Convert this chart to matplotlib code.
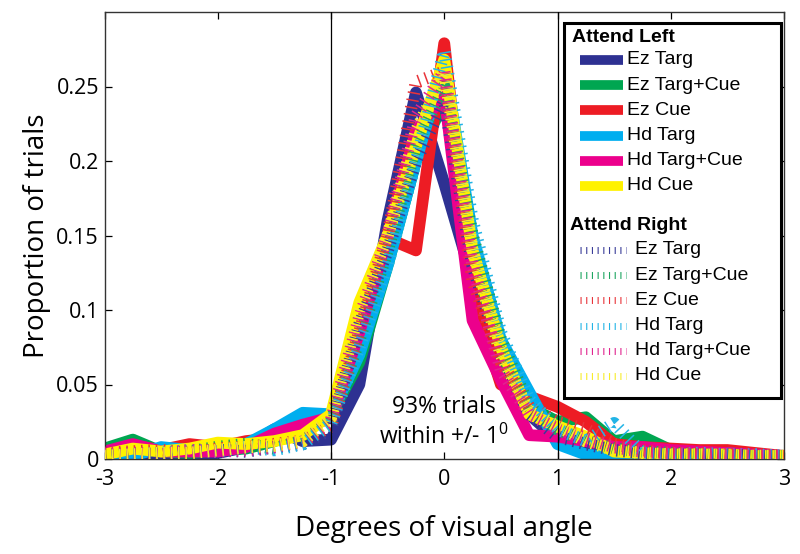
import matplotlib
matplotlib.use("Agg")
import matplotlib.pyplot as plt
from matplotlib.patches import Rectangle

plt.rcParams['font.family'] = ['Open Sans', 'DejaVu Sans']
plt.rcParams['mathtext.fontset'] = 'custom'
plt.rcParams['mathtext.rm'] = 'Open Sans'
plt.rcParams['lines.scale_dashes'] = False

# bin centres (degrees of visual angle)
angle = [-3.0, -2.75, -2.5, -2.25, -2.0, -1.75, -1.5, -1.25, -1.0, -0.75, -0.5, -0.25,
         0.0, 0.25, 0.5, 0.75, 1.0, 1.25, 1.5, 1.75, 2.0, 2.25, 2.5, 2.75, 3.0]

labels = ["Ez Targ", "Ez Targ+Cue", "Ez Cue", "Hd Targ", "Hd Targ+Cue", "Hd Cue"]
colors = ["#2e3192", "#00a651", "#ed1c24", "#00aeef", "#ec008c", "#fff200"]
dash_colors = ["#3a3d99", "#1ea661", "#e8343a", "#22b4e6", "#e0248f", "#f7ec2a"]

# Attend Left (solid)
left_ez_targ = [0.002, 0.002, 0.003, 0.003, 0.004, 0.008, 0.020, 0.012, 0.013, 0.050, 0.160, 0.246,
                0.185, 0.120, 0.060, 0.030, 0.013, 0.010, 0.004, 0.003, 0.004, 0.003, 0.002, 0.002, 0.002]
left_ez_targcue = [0.007, 0.013, 0.005, 0.004, 0.006, 0.007, 0.012, 0.020, 0.030, 0.065, 0.130, 0.200,
                   0.240, 0.140, 0.070, 0.035, 0.025, 0.028, 0.012, 0.015, 0.006, 0.003, 0.003, 0.002, 0.002]
left_ez_cue = [0.004, 0.009, 0.006, 0.010, 0.008, 0.012, 0.014, 0.020, 0.028, 0.075, 0.148, 0.140,
               0.279, 0.110, 0.050, 0.042, 0.035, 0.025, 0.010, 0.008, 0.007, 0.006, 0.006, 0.004, 0.002]
left_hd_targ = [0.001, 0.002, 0.008, 0.006, 0.006, 0.010, 0.020, 0.031, 0.030, 0.070, 0.130, 0.200,
                0.265, 0.150, 0.080, 0.045, 0.010, 0.003, 0.001, 0.002, 0.003, 0.004, 0.004, 0.002, 0.001]
left_hd_targcue = [0.005, 0.010, 0.005, 0.005, 0.005, 0.008, 0.017, 0.023, 0.028, 0.085, 0.150, 0.220,
                   0.245, 0.093, 0.053, 0.016, 0.015, 0.012, 0.008, 0.008, 0.006, 0.005, 0.004, 0.003, 0.002]
left_hd_cue = [0.003, 0.007, 0.005, 0.007, 0.011, 0.010, 0.012, 0.016, 0.030, 0.105, 0.150, 0.210,
               0.268, 0.140, 0.075, 0.030, 0.022, 0.015, 0.005, 0.004, 0.003, 0.003, 0.003, 0.002, 0.002]

# Attend Right (hatched)
right_ez_targ = [0.002, 0.003, 0.004, 0.005, 0.006, 0.005, 0.008, 0.010, 0.020, 0.090, 0.140, 0.200,
                 0.240, 0.130, 0.070, 0.030, 0.015, 0.010, 0.006, 0.004, 0.003, 0.003, 0.003, 0.002, 0.002]
right_ez_targcue = [0.003, 0.004, 0.003, 0.005, 0.008, 0.010, 0.007, 0.012, 0.025, 0.080, 0.140, 0.210,
                    0.250, 0.150, 0.080, 0.035, 0.020, 0.012, 0.007, 0.005, 0.004, 0.003, 0.002, 0.002, 0.002]
right_ez_cue = [0.004, 0.005, 0.006, 0.004, 0.007, 0.008, 0.010, 0.012, 0.022, 0.085, 0.150, 0.253,
                0.260, 0.120, 0.065, 0.035, 0.025, 0.020, 0.010, 0.006, 0.004, 0.004, 0.003, 0.003, 0.002]
right_hd_targ = [0.002, 0.003, 0.004, 0.006, 0.005, 0.008, 0.006, 0.010, 0.024, 0.075, 0.130, 0.200,
                 0.274, 0.160, 0.085, 0.040, 0.020, 0.012, 0.024, 0.004, 0.003, 0.004, 0.003, 0.003, 0.002]
right_hd_targcue = [0.003, 0.004, 0.003, 0.006, 0.005, 0.006, 0.008, 0.012, 0.026, 0.095, 0.150, 0.230,
                    0.260, 0.130, 0.060, 0.030, 0.020, 0.014, 0.008, 0.005, 0.004, 0.003, 0.003, 0.002, 0.002]
right_hd_cue = [0.002, 0.003, 0.004, 0.004, 0.006, 0.008, 0.009, 0.012, 0.028, 0.100, 0.150, 0.220,
                0.260, 0.140, 0.070, 0.032, 0.022, 0.012, 0.006, 0.004, 0.003, 0.003, 0.002, 0.002, 0.002]

left_series = [left_ez_targ, left_ez_targcue, left_ez_cue, left_hd_targ, left_hd_targcue, left_hd_cue]
right_series = [right_ez_targ, right_ez_targcue, right_ez_cue, right_hd_targ, right_hd_targcue, right_hd_cue]

fig = plt.figure(figsize=(8, 5.54), dpi=100)
ax = fig.add_axes([104.5 / 800, 1 - 459 / 554, 679.5 / 800, 447 / 554])

for vals, c in zip(left_series, colors):
    ax.plot(angle, vals, color=c, lw=8.5, solid_joinstyle='round', zorder=2)
for vals, c in zip(right_series, dash_colors):
    ax.plot(angle, vals, color=c, lw=9, dashes=(1.1, 4.2), dash_capstyle='butt', zorder=3)

ax.axvline(-1, color='black', lw=0.9, zorder=4)
ax.axvline(1, color='black', lw=0.9, zorder=4)

ax.set_xlim(-3, 3)
ax.set_ylim(0, 0.3)
ax.set_xticks([-3, -2, -1, 0, 1, 2, 3])
ax.set_xticklabels(["-3", "-2", "-1", "0", "1", "2", "3"])
ax.set_yticks([0, 0.05, 0.1, 0.15, 0.2, 0.25])
ax.set_yticklabels(["0", "0.05", "0.1", "0.15", "0.2", "0.25"])
ax.tick_params(direction='in', length=5, width=0.9, top=True, right=True, labelsize=15.5)
ax.tick_params(axis='x', pad=7)
ax.tick_params(axis='y', pad=4)
for s in ax.spines.values():
    s.set_linewidth(1.0)
    s.set_color('#333333')

ax.set_xlabel("Degrees of visual angle", fontsize=20, labelpad=18)
ax.set_ylabel("Proportion of trials", fontsize=20, labelpad=4)

ax.text(0, 0.035, "93% trials", ha='center', va='center', fontsize=16.5, zorder=6)
ax.text(0, 0.0148, "within +/- 1$^{0}$", ha='center', va='center', fontsize=16.5, zorder=6)


# legend box, placed in pixel positions of the reference
def fx(px):
    return (px - 104.5) / 679.5


def fy(py):
    return (459 - py) / 447


ax.add_patch(Rectangle((fx(564), fy(398)), fx(781) - fx(564), fy(23) - fy(398),
                       transform=ax.transAxes, facecolor='white', edgecolor='black',
                       lw=2.2, zorder=10, clip_on=False))
lfont = ['Liberation Sans', 'DejaVu Sans']
ax.text(fx(572), fy(37), "Attend Left", transform=ax.transAxes, fontsize=14,
        fontweight='bold', family=lfont, va='center', zorder=11)
ax.text(fx(570), fy(225), "Attend Right", transform=ax.transAxes, fontsize=14,
        fontweight='bold', family=lfont, va='center', zorder=11)
for i, (lab, c) in enumerate(zip(labels, colors)):
    y = fy(60 + 25.2 * i)
    ax.plot([fx(580), fx(623)], [y, y], transform=ax.transAxes, color=c, lw=7,
            solid_capstyle='butt', zorder=11, clip_on=False)
    ax.text(fx(627), y, lab, transform=ax.transAxes, fontsize=14, family=lfont,
            va='center', zorder=11)
for i, (lab, c) in enumerate(zip(labels, dash_colors)):
    y = fy(250 + 25.2 * i)
    ax.plot([fx(580), fx(626)], [y, y], transform=ax.transAxes, color=c, lw=5,
            dashes=(0.8, 3.3), dash_capstyle='butt', zorder=11, clip_on=False)
    ax.text(fx(635), y, lab, transform=ax.transAxes, fontsize=14, family=lfont,
            va='center', zorder=11)

fig.savefig("out.png", dpi=100)
